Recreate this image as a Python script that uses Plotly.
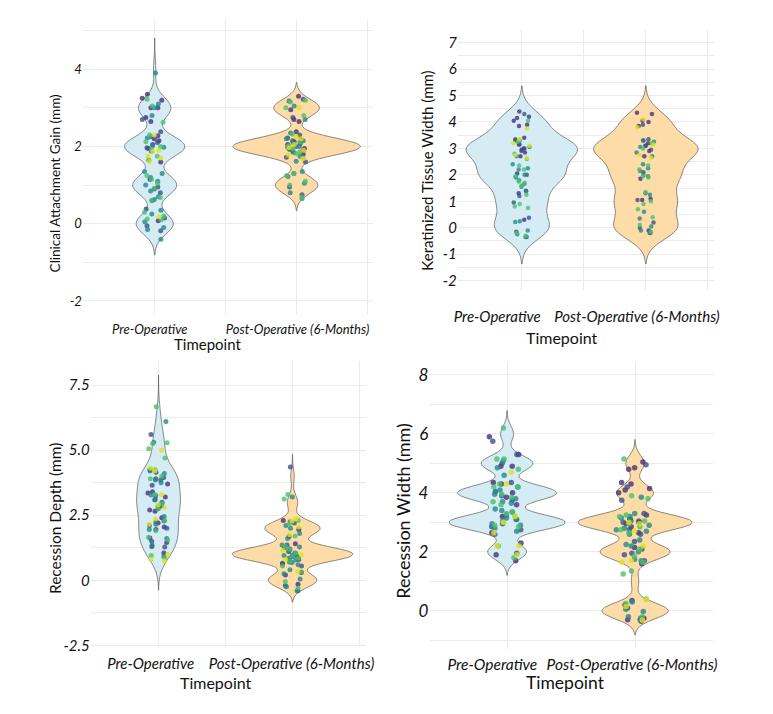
import numpy as np
import plotly.graph_objects as go

# ---------------- data ----------------
categories = ["Pre-Operative", "Post-Operative (6-Months)"]

# colour index per point: 0 purple, 1 blue, 2 teal, 3 green, 4 yellow (viridis)
cag_pre = [3.9, 3.35, 3.25, 3.2, 3.22, 3.1, 3.05, 3.0, 3.0, 3.0, 2.8, 2.75, 2.7, 2.63, 2.65, 2.38, 2.28, 2.3, 2.3, 2.25,
           2.2, 2.22, 2.15, 2.1, 2.05, 2.0, 1.98, 1.9, 1.95, 1.88, 1.92, 1.87, 1.75, 1.7, 1.75, 1.65, 1.62, 1.6, 2.02, 1.97,
           2.12, 1.35, 1.3, 1.25, 1.2, 1.15, 1.15, 1.1, 1.05, 1.0, 0.95, 0.92, 0.9, 0.85, 0.8, 0.7, 0.68, 0.63, 0.6, 0.6,
           0.38, 0.35, 0.3, 0.2, 0.25, 0.18, 0.12, 0.15, 0.1, 0.08, 0.05, -0.05, -0.1, -0.15, -0.18, -0.4]
cag_pre_col = [2, 0, 0, 0, 3, 2, 3, 0, 0, 2, 2, 0, 1, 3, 0, 1, 0, 3, 4, 1,
               0, 2, 0, 1, 0, 3, 2, 4, 0, 1, 3, 4, 4, 4, 3, 2, 4, 0, 2, 1,
               3, 2, 2, 3, 2, 3, 0, 2, 3, 2, 1, 3, 1, 2, 1, 2, 3, 2, 3, 1,
               1, 2, 3, 3, 2, 4, 3, 1, 3, 0, 2, 1, 2, 2, 1, 2]

cag_post = [3.3, 3.22, 3.18, 3.15, 3.2, 3.05, 3.0, 3.0, 2.95, 2.8, 2.75, 2.7, 2.65, 2.7, 2.38, 2.35, 2.3, 2.32, 2.25, 2.2,
            2.2, 2.18, 2.15, 2.12, 2.1, 2.05, 2.05, 2.0, 1.98, 1.95, 1.95, 1.9, 1.88, 1.85, 1.82, 1.8, 1.78, 1.75, 1.72, 1.7,
            1.68, 1.62, 1.6, 2.08, 2.02, 1.97, 1.93, 2.15, 2.22, 1.86, 2.0, 1.9, 2.12, 1.35, 1.3, 1.3, 1.25, 1.22, 1.1, 1.05,
            0.95, 1.0, 0.8, 0.75, 0.68, 0.65]
cag_post_col = [0, 1, 2, 3, 3, 2, 4, 3, 0, 3, 1, 2, 0, 0, 0, 2, 1, 3, 4, 4,
                2, 0, 1, 3, 2, 0, 4, 1, 2, 3, 0, 4, 2, 1, 3, 0, 4, 2, 1, 3,
                4, 2, 1, 1, 3, 4, 0, 2, 1, 3, 2, 1, 0, 2, 3, 2, 3, 2, 3, 2,
                1, 3, 2, 1, 3, 2]

ktw_pre = [4.4, 4.3, 4.2, 4.15, 4.05, 4.05, 3.9, 3.85, 3.75, 3.4, 3.35, 3.35, 3.3, 3.3, 3.25, 3.2, 3.15, 3.15, 3.1, 3.05,
           3.0, 3.0, 2.95, 2.9, 2.85, 2.8, 2.75, 2.7, 2.7, 2.65, 2.6, 2.4, 2.35, 2.25, 2.2, 2.2, 2.05, 2.0, 2.0, 1.95,
           1.9, 1.8, 1.75, 1.7, 1.65, 1.6, 1.55, 1.4, 1.38, 1.3, 1.2, 1.25, 0.95, 0.9, 0.8, 0.75, 0.38, 0.3, 0.25, 0.22,
           -0.1, -0.15, -0.2, -0.25, -0.35, -0.35, -0.3]
ktw_pre_col = [0, 1, 0, 0, 0, 3, 0, 0, 4, 0, 1, 4, 2, 0, 3, 4, 1, 0, 4, 2,
               1, 0, 0, 1, 0, 3, 4, 2, 0, 4, 3, 2, 3, 2, 2, 3, 0, 2, 1, 3,
               2, 2, 3, 3, 2, 3, 2, 0, 2, 0, 1, 3, 1, 3, 3, 3, 1, 0, 2, 2,
               2, 1, 3, 2, 1, 2, 3]

ktw_post = [4.35, 4.3, 4.1, 4.05, 4.0, 3.9, 3.85, 3.8, 3.35, 3.3, 3.3, 3.25, 3.2, 3.2, 3.15, 3.1, 3.1, 3.05, 3.0, 2.95,
            2.9, 2.85, 2.75, 2.7, 2.7, 2.65, 2.4, 2.35, 2.25, 2.2, 2.15, 2.1, 2.0, 1.95, 1.95, 1.9, 1.85, 1.35, 1.3, 1.25,
            1.1, 1.05, 1.0, 1.05, 0.9, 0.7, 0.6, 0.4, 0.35, 0.2, 0.1, 0.05, 0.0, -0.1, -0.1, -0.15, -0.2, -0.2]
ktw_post_col = [0, 0, 4, 0, 0, 1, 0, 4, 1, 2, 0, 2, 3, 0, 4, 1, 0, 2, 3, 1,
                0, 2, 4, 0, 2, 4, 2, 3, 2, 3, 2, 1, 2, 3, 2, 3, 0, 3, 2, 2,
                0, 1, 3, 0, 3, 3, 2, 3, 2, 1, 3, 2, 1, 0, 2, 3, 1, 2]

rd_pre = [6.67, 6.1, 5.6, 5.28, 5.25, 5.3, 5.05, 5.0, 4.7, 4.25, 4.2, 4.25, 4.3, 4.2, 4.15, 4.1, 4.0, 3.95, 3.9, 3.85,
          3.9, 3.75, 3.85, 3.7, 3.65, 3.4, 3.35, 3.3, 3.3, 3.28, 3.25, 3.2, 3.1, 3.08, 3.0, 2.95, 2.95, 2.9, 2.85, 2.85,
          2.8, 2.75, 2.7, 2.75, 2.65, 2.45, 2.35, 2.4, 2.3, 2.28, 2.25, 2.2, 2.15, 2.15, 2.1, 2.05, 2.0, 1.95, 1.95, 1.9,
          1.65, 1.6, 1.62, 1.55, 1.5, 1.45, 1.35, 1.3, 1.28, 1.0, 1.05, 0.95, 0.9, 0.85, 0.8, 0.75]
rd_pre_col = [3, 2, 1, 3, 3, 2, 3, 4, 3, 3, 4, 0, 4, 2, 0, 2, 3, 1, 3, 2,
              1, 2, 1, 0, 1, 0, 0, 3, 4, 2, 1, 0, 0, 2, 1, 2, 3, 4, 0, 2,
              4, 1, 0, 3, 0, 2, 4, 0, 3, 1, 1, 0, 2, 4, 1, 0, 1, 2, 0, 3,
              3, 2, 0, 3, 1, 0, 2, 0, 1, 4, 0, 3, 2, 3, 4, 4]

rd_post = [4.35, 3.3, 3.12, 3.2, 2.35, 2.3, 2.28, 2.3, 2.25, 2.2, 2.15, 2.1, 2.05, 2.0, 1.95, 1.8, 1.75, 1.7, 1.68, 1.6,
           1.4, 1.35, 1.35, 1.3, 1.28, 1.25, 1.2, 1.2, 1.15, 1.12, 1.1, 1.05, 1.05, 1.0, 1.0, 0.98, 0.95, 0.95, 0.92, 0.9,
           0.88, 0.85, 0.85, 0.8, 0.8, 0.78, 0.75, 0.72, 0.7, 0.68, 0.65, 0.62, 0.6, 0.55, 0.55, 0.4, 0.35, 0.32, 0.3, 0.25,
           0.2, 0.05, -0.05, -0.15, -0.2, -0.25, -0.3, -0.4, -0.4]
rd_post_col = [1, 3, 3, 2, 4, 3, 4, 0, 2, 1, 3, 2, 4, 2, 0, 2, 4, 3, 0, 2,
               0, 1, 2, 3, 2, 0, 1, 3, 4, 2, 0, 1, 3, 2, 0, 4, 1, 2, 3, 0,
               1, 2, 3, 0, 4, 2, 1, 3, 0, 2, 1, 0, 2, 3, 1, 2, 4, 3, 0, 2,
               0, 2, 3, 0, 1, 2, 3, 2, 1]

rw_pre = [6.2, 5.9, 5.75, 5.3, 5.3, 5.15, 5.1, 5.15, 5.0, 4.9, 4.9, 4.85, 4.8, 4.7, 4.6, 4.35, 4.35, 4.3, 4.3, 4.3,
          4.2, 4.2, 4.2, 4.1, 4.05, 4.0, 3.95, 3.95, 3.9, 3.85, 3.85, 3.8, 3.75, 3.7, 3.7, 3.65, 3.6, 3.6, 3.45, 3.4,
          3.35, 3.35, 3.3, 3.25, 3.2, 3.2, 3.2, 3.15, 3.1, 3.1, 3.05, 3.0, 3.0, 2.95, 2.95, 2.9, 2.9, 2.85, 2.85, 2.8,
          2.75, 2.65, 2.65, 2.7, 2.6, 2.3, 2.2, 2.2, 2.2, 1.95, 1.9, 1.9, 1.8, 1.7]
rw_pre_col = [3, 0, 1, 0, 1, 3, 2, 3, 1, 0, 0, 2, 3, 4, 2, 0, 1, 0, 3, 4,
              2, 3, 3, 2, 1, 0, 2, 3, 1, 3, 0, 2, 1, 3, 2, 2, 0, 3, 2, 2,
              3, 2, 3, 1, 0, 3, 4, 2, 1, 2, 2, 3, 4, 1, 2, 3, 2, 1, 3, 2,
              1, 4, 0, 2, 1, 0, 4, 4, 3, 1, 0, 4, 3, 0]

rw_post = [5.15, 5.05, 4.95, 4.85, 4.8,
           4.35, 4.3, 4.15, 4.1, 4.2, 4.0, 3.85, 3.8, 3.75, 3.9,
           3.3, 3.3, 3.25, 3.2, 3.2, 3.1, 3.1, 3.05, 3.05, 3.0, 3.0, 3.0, 2.95, 2.95, 2.9,
           2.85, 2.8, 2.75, 2.75, 2.7, 2.65, 2.7, 2.65, 2.6, 2.6,
           3.15, 3.05, 2.95, 2.85, 3.25, 2.75,
           2.4, 2.35, 2.25, 2.2, 2.2, 2.15, 2.1, 2.1, 2.0, 1.95, 1.9, 1.85, 1.75, 1.7, 1.7, 1.7, 1.65, 1.65, 1.6,
           1.35, 1.25,
           0.38, 0.4, 0.35, 0.3, 0.2, 0.15, 0.1, 0.05, -0.02, -0.2, -0.25, -0.3, -0.35, -0.32, -0.25, -0.2, 0.25, -0.3]
rw_post_col = [3, 0, 1, 0, 0,
               0, 0, 0, 0, 1, 0, 2, 3, 1, 3,
               1, 2, 0, 3, 2, 0, 1, 3, 2, 4, 0, 1, 3, 0, 2,
               3, 2, 2, 3, 4, 0, 2, 3, 1, 2,
               2, 1, 4, 0, 3, 1,
               2, 1, 2, 2, 4, 0, 1, 3, 2, 1, 1, 3, 2, 2, 4, 1, 4, 3, 0,
               3, 3,
               4, 3, 0, 2, 0, 4, 1, 2, 2, 2, 1, 0, 0, 4, 0, 3, 3, 2]

cag_ticks = [-2, 0, 2, 4]
cag_ticktext = ["-2", "0", "2", "4"]
ktw_ticks = [-2, -1, 0, 1, 2, 3, 4, 5, 6, 7]
ktw_ticktext = ["-2", "-1", "0", "1", "2", "3", "4", "5", "6", "7"]
rd_ticks = [-2.5, 0, 2.5, 5, 7.5]
rd_ticktext = ["-2.5", "0", "2.5", "5.0", "7.5"]
rw_ticks = [0, 2, 4, 6, 8]
rw_ticktext = ["0", "2", "4", "6", "8"]

# ---------------- styling ----------------
W, H = 773, 714
FONT = "Lato"
TXT = "#111111"
GRID = "#ebebeb"
point_colors = ["#46307e", "#3b528b", "#23888e", "#4ac16d", "#dde318"]
violin_fills = ["#d6ecf4", "#fedca8"]

panels = [
    dict(title="Clinical Attachment Gain (mm)", pre=cag_pre, pre_col=cag_pre_col, post=cag_post, post_col=cag_post_col,
         ticks=cag_ticks, ticktext=cag_ticktext, yminor=[-1, 1, 3, 5], xgrid=[0, 0.5, 1, 1.5],
         xpx=(80, 375), ypx=(20, 318), xr=[-0.507, 1.54], yr=[-2.36, 5.28],
         ytf=13, xtf=13, xlen=3, lab_off=(-5, 1), yt=(52, 185, 13.5), xt=(207, 347, 15),
         jit=0.18, ms=5, bw=(0.27, 0.22), step=(1, 1)),
    dict(title="Keratinized Tissue Width (mm)", pre=ktw_pre, pre_col=ktw_pre_col, post=ktw_post, post_col=ktw_post_col,
         ticks=ktw_ticks, ticktext=ktw_ticktext, yminor=[-1.5, -0.5, 0.5, 1.5, 2.5, 3.5, 4.5, 5.5, 6.5],
         xgrid=[0, 0.5, 1, 1.5],
         xpx=(461, 721), ypx=(30, 293), xr=[-0.516, 1.548], yr=[-2.36, 7.49],
         ytf=15, xtf=15, xlen=13, lab_off=(-25, -9), yt=(430, 172, 15), xt=(567, 341, 16),
         jit=0.16, ms=4.5, bw=(0.455, 0.455), step=(1, 1)),
    dict(title="Recession Depth (mm)", pre=rd_pre, pre_col=rd_pre_col, post=rd_post, post_col=rd_post_col,
         ticks=rd_ticks, ticktext=rd_ticktext, yminor=[-1.25, 1.25, 3.75, 6.25], xgrid=[0, 0.5, 1, 1.5],
         xpx=(88, 368), ypx=(365, 653), xr=[-0.507, 1.551], yr=[-2.55, 8.41],
         ytf=15, xtf=15, xlen=3, lab_off=(-8, -1), yt=(52, 524, 15.5), xt=(215, 689, 16),
         jit=0.18, ms=5, bw=(0.46, 0.28), step=(0.5, 1)),
    dict(title="Recession Width (mm)", pre=rw_pre, pre_col=rw_pre_col, post=rw_post, post_col=rw_post_col,
         ticks=rw_ticks, ticktext=rw_ticktext, yminor=[-1, 1, 3, 5, 7], xgrid=[0, 1],
         xpx=(432, 720), ypx=(367, 655), xr=[-0.608, 1.608], yr=[-1.28, 8.39],
         ytf=17, xtf=15.5, xlen=2, lab_off=(-15, -3), yt=(405, 516, 18), xt=(570, 689, 17.5),
         jit=0.3, ms=5.5, bw=(0.265, 0.27), step=(1, 1)),
]

fig = go.Figure()
layout_axes = {}
annotations = []

for n, p in enumerate(panels, start=1):
    xa = "x" if n == 1 else f"x{n}"
    ya = "y" if n == 1 else f"y{n}"
    groups = [(p["pre"], p["pre_col"]), (p["post"], p["post_col"])]
    # violins (measurements recorded in steps; density from the recorded values)
    for i, (vals, cols) in enumerate(groups):
        assert len(vals) == len(cols), (n, i, len(vals), len(cols))
        v = np.asarray(vals, float)
        step, bw = p["step"][i], p["bw"][i]
        raw = np.round(v / step) * step
        fig.add_trace(go.Violin(
            x0=i, y=raw, xaxis=xa, yaxis=ya, name=categories[i],
            scalegroup=f"panel{n}", scalemode="width",
            bandwidth=bw, spanmode="manual", span=[raw.min() - 3 * bw, raw.max() + 3 * bw],
            points=False, fillcolor=violin_fills[i], line=dict(color="#5a5a5a", width=0.7),
            hoverinfo="skip", showlegend=False))
    # jittered points, one trace per colour
    for i, (vals, cols) in enumerate(groups):
        v = np.asarray(vals, float)
        c = np.asarray(cols)
        for k, col in enumerate(point_colors):
            sel = v[c == k]
            if len(sel) == 0:
                continue
            fig.add_trace(go.Box(
                x0=i, y=sel, xaxis=xa, yaxis=ya, name=categories[i],
                boxpoints="all", jitter=1, pointpos=0, width=p["jit"],
                fillcolor="rgba(0,0,0,0)", line=dict(width=0, color="rgba(0,0,0,0)"),
                marker=dict(color=col, size=p["ms"], opacity=0.8, line=dict(width=0)),
                hoverinfo="y", showlegend=False))

    x0, x1 = p["xpx"]
    y0, y1 = p["ypx"]
    ppu = (x1 - x0) / (p["xr"][1] - p["xr"][0])  # pixels per category unit
    label_pos = [i + p["lab_off"][i] / ppu for i in range(2)]
    xkey = "xaxis" if n == 1 else f"xaxis{n}"
    ykey = "yaxis" if n == 1 else f"yaxis{n}"
    layout_axes[xkey] = dict(
        domain=[x0 / W, x1 / W], range=p["xr"], type="linear", anchor=ya,
        tickmode="array", tickvals=label_pos, ticktext=categories, tickangle=0,
        showgrid=False, zeroline=False, showline=False,
        ticks="outside", ticklen=p["xlen"], tickcolor="rgba(0,0,0,0)",
        minor=dict(tickmode="array", tickvals=p["xgrid"], showgrid=True, gridcolor=GRID, gridwidth=1, ticks=""),
        tickfont=dict(family=FONT, size=p["xtf"], color=TXT, style="italic"),
        fixedrange=True)
    layout_axes[ykey] = dict(
        domain=[1 - y1 / H, 1 - y0 / H], range=p["yr"], anchor=xa,
        tickmode="array", tickvals=p["ticks"], ticktext=p["ticktext"],
        showgrid=True, gridcolor=GRID, gridwidth=1, zeroline=False, showline=False, ticks="",
        minor=dict(tickmode="array", tickvals=p["yminor"], showgrid=True, gridcolor=GRID, gridwidth=1, ticks=""),
        tickfont=dict(family=FONT, size=p["ytf"], color=TXT, style="italic"), fixedrange=True)

    tx, ty, ts = p["yt"]
    annotations.append(dict(text=p["title"], x=tx / W, y=1 - ty / H, xref="paper", yref="paper",
                            xanchor="center", yanchor="middle", textangle=-90, showarrow=False,
                            font=dict(family=FONT, size=ts, color=TXT)))
    tx, ty, ts = p["xt"]
    annotations.append(dict(text="Timepoint", x=tx / W, y=1 - ty / H, xref="paper", yref="paper",
                            xanchor="center", yanchor="middle", showarrow=False,
                            font=dict(family=FONT, size=ts, color=TXT)))

fig.update_layout(
    width=W, height=H, autosize=False,
    margin=dict(l=0, r=0, t=0, b=0),
    paper_bgcolor="white", plot_bgcolor="white",
    violinmode="overlay", violingap=0.1, violingroupgap=0,
    boxmode="overlay",
    showlegend=False, annotations=annotations,
    **layout_axes)

fig.write_html("out.html")
